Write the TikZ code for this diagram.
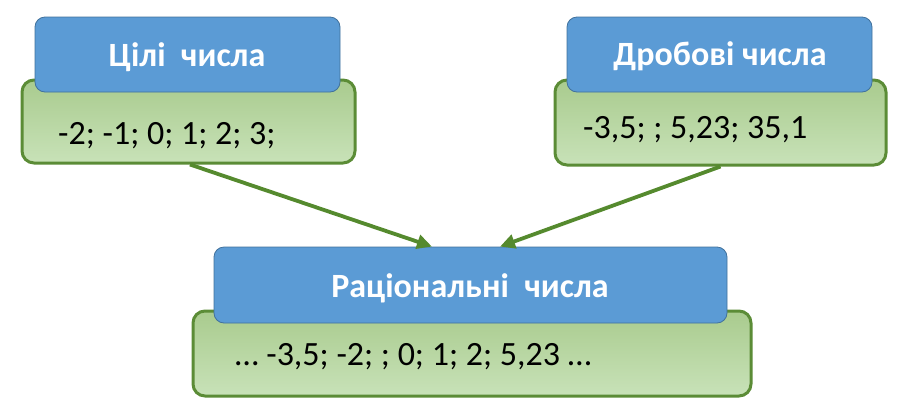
\documentclass[tikz,border=0pt]{standalone}
\usepackage{fontspec}
\setmainfont{Carlito}
\usetikzlibrary{arrows.meta,calc}
\definecolor{bluefill}{HTML}{5B9BD5}
\definecolor{blueedge}{HTML}{41719C}
\definecolor{greentop}{HTML}{A9CB8E}
\definecolor{greenbot}{HTML}{C8E2B8}
\definecolor{greenedge}{HTML}{5B8C36}
\definecolor{arrowgreen}{HTML}{558A2E}
\begin{document}
\begin{tikzpicture}[x=1pt,y=-1pt,
  greenbox/.style={draw=greenedge,line width=3pt,rounded corners=12pt,top color=greentop,bottom color=greenbot,inner sep=0pt},
  bluebox/.style={draw=blueedge,line width=0.8pt,fill=bluefill,rounded corners=10pt,inner sep=0pt},
  titletext/.style={text=white,font=\fontsize{34}{40}\selectfont\bfseries,inner sep=0pt},
  bodytext/.style={text=black,font=\fontsize{34}{40}\selectfont,inner sep=0pt,anchor=west},
  link/.style={draw=arrowgreen,line width=3.8pt,-{Triangle[length=15pt,width=14pt]}}]
\useasboundingbox (0,0) rectangle (908,416);
% left
\node[greenbox,minimum width=333pt,minimum height=83pt] (lg) at (188.5,121.5) {};
\node[bluebox,minimum width=305pt,minimum height=75pt] (lb) at (187.5,54.5) {};
\node[titletext] (lt) at (187,57) {Цілі\ \ числа};
\node[bodytext] (lx) at (58,136) {-2; -1; 0; 1; 2; 3;};
% right
\node[greenbox,minimum width=331pt,minimum height=85pt] (rg) at (720.5,122.5) {};
\node[bluebox,minimum width=305pt,minimum height=75pt] (rb) at (719.5,54.5) {};
\node[titletext] (rt) at (720,56) {Дробові числа};
\node[bodytext] (rx) at (583,130) {-3,5; ; 5,23; 35,1};
% bottom
\node[greenbox,minimum width=558pt,minimum height=85pt] (bg) at (472,353.5) {};
\node[bluebox,minimum width=513pt,minimum height=76pt] (bb) at (470.5,285) {};
\node[titletext] (bt) at (470,288) {Раціональні\ \ числа};
\node[bodytext] (bx) at (235,357) {\dots\ -3,5; -2; ; 0; 1; 2; 5,23 \dots};
% arrows
\coordinate (ae1) at ($(bb.north)+(-38.5,0)$);
\coordinate (ae2) at ($(bb.north)+(29.5,0)$);
\coordinate (as1) at ($(lg.south)+(1.5,0)$);
\coordinate (as2) at ($(rg.south)+(0,0)$);
\draw[link] (as1) -- (ae1);
\draw[link] (as2) -- (ae2);
\end{tikzpicture}
\end{document}
